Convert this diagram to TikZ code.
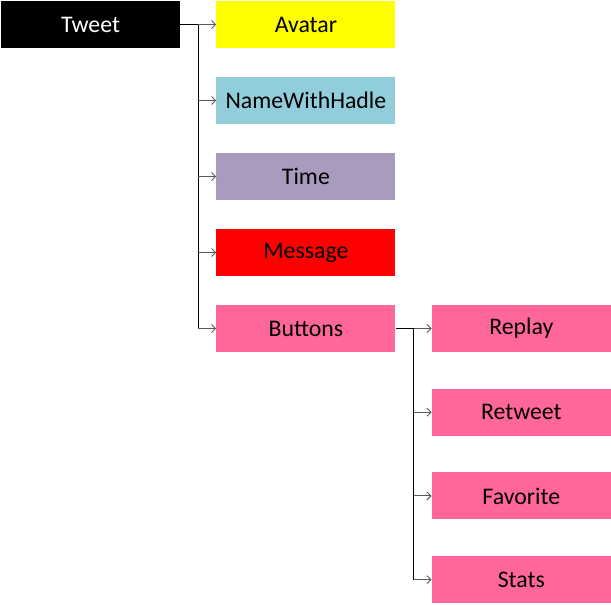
\documentclass[tikz,border=0pt]{standalone}
\usepackage{fontspec}
\setmainfont{Carlito}
\usepackage{tikz}
\usetikzlibrary{arrows.meta,positioning,calc}

\definecolor{avatarcol}{HTML}{FFFF00}
\definecolor{namecol}{HTML}{92CDDC}
\definecolor{timecol}{HTML}{A99BBD}
\definecolor{msgcol}{HTML}{FF0000}
\definecolor{btncol}{HTML}{FF6699}

\begin{document}
\begin{tikzpicture}[
  x=1pt, y=1pt,
  font=\fontsize{23.8}{28}\selectfont,
  node distance=28.6pt and 36pt,
  comp/.style={minimum width=179pt, minimum height=47pt, inner sep=0pt, text=black},
  trunk/.style={line width=1.3pt, black},
  arrow/.style={-{Straight Barb[length=4pt,width=8pt]}, line width=0.9pt, black!65}
]
\useasboundingbox (0,0) rectangle (611,-605);
\node[comp, fill=black, text=white] (tweet) at (90.5,-24.5) {Tweet};
\node[comp, fill=avatarcol, right=36pt of tweet] (avatar) {Avatar};
\node[comp, fill=namecol, below=of avatar] (name) {NameWithHadle};
\node[comp, fill=timecol, below=of name] (time) {Time};
\node[comp, fill=msgcol, below=of time] (message) {Message};
\node[comp, fill=btncol, below=of message] (buttons) {Buttons};
\node[comp, fill=btncol, right=36pt of buttons] (replay) {Replay};
\node[comp, fill=btncol, below=36.3pt of replay] (retweet) {Retweet};
\node[comp, fill=btncol, below=36.3pt of retweet] (favorite) {Favorite};
\node[comp, fill=btncol, below=36.3pt of favorite] (stats) {Stats};
% tweet children
\coordinate (hubA) at ($(tweet.east)+(18,0)$);
\draw[trunk] (tweet.east) -- (hubA) -- (hubA |- buttons.west);
\foreach \c in {avatar,name,time,message,buttons}
  \draw[arrow] (hubA |- \c.west) -- (\c.west);
% buttons children
\coordinate (hubB) at ($(buttons.east)+(18,0)$);
\draw[trunk] (buttons.east) -- (hubB) -- (hubB |- stats.west);
\foreach \c in {replay,retweet,favorite,stats}
  \draw[arrow] (hubB |- \c.west) -- (\c.west);
\end{tikzpicture}
\end{document}
